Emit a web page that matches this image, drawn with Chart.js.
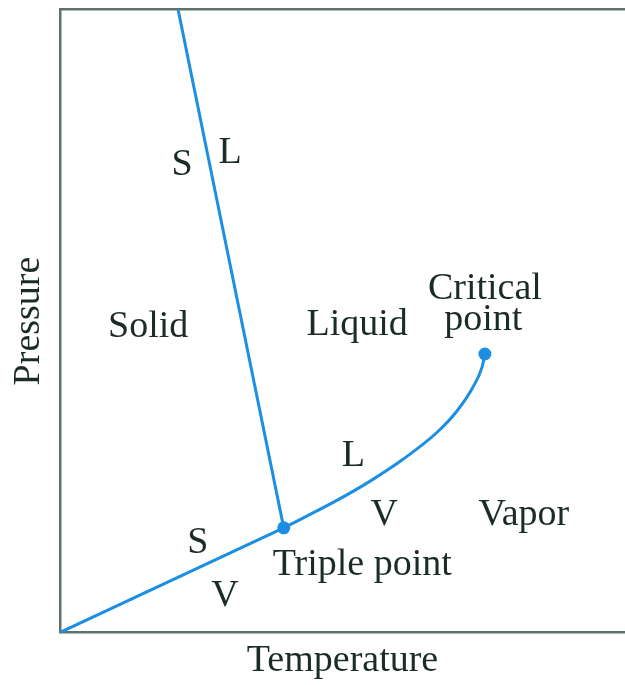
<!DOCTYPE html>
<html>
<head>
<meta charset="utf-8">
<title>Phase diagram</title>
<script src="https://cdn.jsdelivr.net/npm/chart.js@4.4.1/dist/chart.umd.min.js"></script>
<style>
html, body { margin: 0; padding: 0; background: #ffffff; }
#wrap { width: 625px; height: 685px; }
</style>
</head>
<body>
<div id="wrap"><canvas id="phase"></canvas></div>
<script>
"use strict"

// phase boundaries, temperature / pressure in arbitrary units (0-100)
var sublimationT = [0, 39.6];
var sublimationP = [0, 16.8];
var meltingT = [20.9, 39.6];
var meltingP = [100, 16.8];
var boilingT = [39.6, 49.0, 54.9, 60.7, 66.7, 70.3, 73.1, 74.7, 75.2];
var boilingP = [16.8, 21.2, 24.3, 27.8, 32.1, 35.6, 39.4, 42.6, 44.7];

// triple point and critical point
var pointNames = ["Triple point", "Critical point"];
var pointT = [39.6, 75.2];
var pointP = [16.8, 44.7];

// region and boundary labels, anchored in the same units
var labelText = ["S", "L", "Solid", "Liquid", "Critical", "point", "L", "V", "Vapor", "S", "V", "Triple point"];
var labelT = [21.6, 30.1, 15.6, 52.6, 75.2, 74.9, 51.9, 57.4, 82.1, 24.4, 29.2, 53.5];
var labelP = [75.1, 76.9, 49.0, 49.3, 55.1, 50.1, 28.4, 18.8, 18.8, 14.4, 5.9, 10.8];

var lineColor = "#1c8fe3";
var axisColor = "#5b7368";
var textColor = "#1b2c27";
var serif = "'Liberation Serif', 'Times New Roman', serif";
var fontSize = 38;

function toXY(xs, ys){
    var arr = [];
    for (var i in xs){
        arr.push({x: xs[i], y: ys[i]});
    }
    return arr;
}

function boundary(label, xs, ys){
    return {
        label: label,
        data: toXY(xs, ys),
        showLine: true,
        borderColor: lineColor,
        borderWidth: 3,
        pointRadius: 0,
        fill: false
    };
}

var phaseLabels = {
    id: "phaseLabels",
    afterDatasetsDraw: function(chart){
        var ctx = chart.ctx;
        var xs = chart.scales.x;
        var ys = chart.scales.y;
        ctx.save();
        ctx.font = fontSize + "px " + serif;
        ctx.fillStyle = textColor;
        ctx.textAlign = "center";
        ctx.textBaseline = "middle";
        for (var i in labelText){
            ctx.fillText(labelText[i], xs.getPixelForValue(labelT[i]), ys.getPixelForValue(labelP[i]));
        }
        ctx.restore();
    }
};

var vapour = boundary("Liquid / Vapor", boilingT, boilingP);
vapour.cubicInterpolationMode = "monotone";

var points = {
    label: "Points",
    data: toXY(pointT, pointP),
    showLine: false,
    pointRadius: 6.5,
    pointBackgroundColor: lineColor,
    pointBorderWidth: 0
};

function hiddenAxis(pos){
    return {
        type: "linear",
        position: pos,
        min: 0,
        max: 100,
        grid: {display: false, drawTicks: false},
        ticks: {display: false},
        border: {display: true, color: axisColor, width: 2.5}
    };
}

var xAxis = hiddenAxis("bottom");
xAxis.title = {display: true, text: "Temperature", color: textColor,
    font: {family: serif, size: fontSize, lineHeight: 1.2}, padding: {top: 5.9, bottom: 1}};

var yAxis = hiddenAxis("left");
yAxis.title = {display: true, text: "Pressure", color: textColor,
    font: {family: serif, size: fontSize, lineHeight: 1.2}, padding: {top: 6.4, bottom: 8}};

var topAxis = hiddenAxis("top");
topAxis.axis = "x";

new Chart(document.getElementById("phase"), {
    type: "scatter",
    data: {
        datasets: [
            boundary("Solid / Vapor", sublimationT, sublimationP),
            boundary("Solid / Liquid", meltingT, meltingP),
            vapour,
            points
        ]
    },
    options: {
        responsive: true,
        maintainAspectRatio: false,
        animation: false,
        layout: {autoPadding: false, padding: {left: 0, right: 0, top: 9.5, bottom: 0}},
        plugins: {
            legend: {display: false},
            tooltip: {enabled: false}
        },
        scales: {
            x: xAxis,
            y: yAxis,
            x2: topAxis
        }
    },
    plugins: [phaseLabels]
});
</script>
</body>
</html>
